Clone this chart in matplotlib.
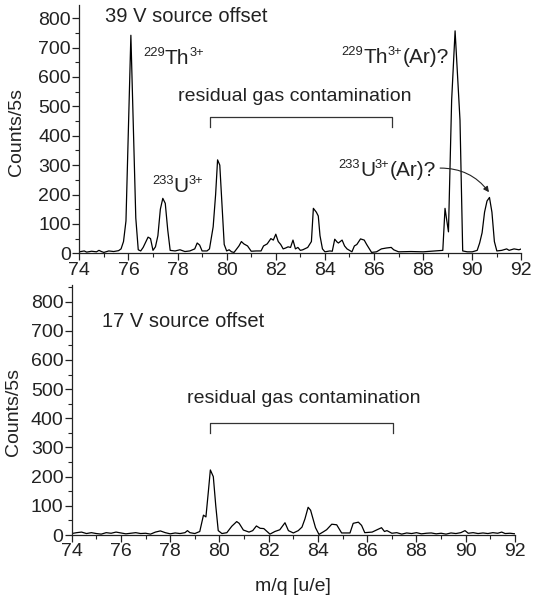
import matplotlib
matplotlib.use("Agg")
import matplotlib.pyplot as plt
from matplotlib.ticker import MultipleLocator
from matplotlib import font_manager

plt.rcParams['font.family'] = ['Liberation Sans', 'DejaVu Sans']

# ---- data: top panel (39 V source offset) ----
top_mq = [74.0, 74.2, 74.3, 74.5, 74.7, 74.8, 74.9, 75.0, 75.2, 75.4, 75.6, 75.7, 75.8, 75.9,
          76.0, 76.1, 76.2, 76.3, 76.4, 76.5, 76.6, 76.8, 76.9, 77.0, 77.1, 77.2, 77.3, 77.4,
          77.5, 77.6, 77.7, 77.9, 78.1, 78.3, 78.5, 78.7, 78.8, 78.9, 79.0, 79.2, 79.3, 79.45,
          79.55, 79.63, 79.72, 79.8, 79.9, 80.0, 80.1, 80.2, 80.3, 80.5, 80.6, 80.7, 80.85, 81.0,
          81.2, 81.4, 81.5, 81.65, 81.8, 81.9, 82.0, 82.1, 82.2, 82.3, 82.4, 82.5, 82.6, 82.7,
          82.8, 82.9, 83.0, 83.1, 83.3, 83.45, 83.53, 83.65, 83.73, 83.8, 83.9, 84.0, 84.2, 84.3,
          84.4, 84.5, 84.55, 84.7, 84.8, 84.9, 85.1, 85.2, 85.3, 85.45, 85.6, 85.7, 85.9, 86.1,
          86.3, 86.5, 86.7, 86.8, 87.0, 87.5, 88.0, 88.5, 88.8, 88.89, 89.03, 89.16, 89.3, 89.5,
          89.61, 89.8, 90.0, 90.2, 90.3, 90.4, 90.5, 90.6, 90.7, 90.8, 90.9, 91.0, 91.2, 91.4,
          91.5, 91.7, 91.9, 92.0]
top_counts = [5, 8, 4, 7, 5, 10, 6, 3, 8, 6, 9, 15, 40, 110,
              420, 742, 430, 120, 12, 8, 20, 55, 50, 10, 22, 60, 150, 187,
              170, 80, 10, 8, 12, 6, 8, 15, 35, 28, 8, 8, 15, 90,
              200, 318, 300, 180, 30, 8, 12, 5, 3, 25, 40, 32, 25, 7,
              8, 8, 25, 32, 50, 45, 65, 40, 30, 15, 18, 22, 20, 45,
              15, 20, 10, 12, 20, 40, 153, 140, 127, 60, 15, 5, 8, 7,
              48, 38, 35, 45, 25, 15, 5, 25, 30, 49, 45, 30, 3, 5,
              15, 18, 20, 12, 5, 6, 5, 8, 10, 153, 73, 521, 757, 453,
              8, 5, 5, 10, 35, 70, 140, 178, 190, 140, 40, 8, 10, 15,
              10, 15, 12, 15]

# ---- data: bottom panel (17 V source offset) ----
bot_mq = [74.0, 74.2, 74.4, 74.6, 74.8, 75.0, 75.2, 75.4, 75.6, 75.8, 76.0, 76.2, 76.4, 76.6,
          76.8, 77.0, 77.2, 77.4, 77.6, 77.8, 78.0, 78.2, 78.4, 78.6, 78.7, 78.8, 79.0, 79.2,
          79.35, 79.45, 79.55, 79.63, 79.75, 79.85, 79.95, 80.1, 80.3, 80.5, 80.7, 80.8, 80.97,
          81.2, 81.35, 81.5, 81.65, 81.8, 82.05, 82.25, 82.45, 82.66, 82.8, 83.0, 83.2, 83.35,
          83.47, 83.6, 83.7, 83.8, 83.9, 84.04, 84.2, 84.35, 84.56, 84.76, 84.96, 85.3, 85.43,
          85.64, 85.77, 85.9, 86.2, 86.45, 86.58, 86.7, 86.8, 87.0, 87.2, 87.4, 87.6, 87.8, 88.0,
          88.2, 88.4, 88.6, 88.8, 89.0, 89.2, 89.4, 89.6, 89.8, 89.97, 90.1, 90.3, 90.5, 90.7,
          90.9, 91.1, 91.3, 91.46, 91.6, 91.8, 92.0]
bot_counts = [5, 8, 10, 5, 8, 5, 3, 8, 6, 10, 7, 4, 6, 8,
              5, 6, 3, 10, 14, 8, 4, 7, 5, 8, 15, 8, 5, 12,
              68, 62, 150, 223, 200, 100, 15, 5, 8, 30, 46, 40, 17,
              10, 15, 31, 23, 22, 3, 12, 18, 42, 15, 7, 15, 27,
              55, 95, 85, 55, 25, 2, 10, 18, 37, 35, 7, 7, 40,
              44, 33, 8, 10, 20, 25, 12, 15, 6, 8, 3, 7, 5, 8,
              4, 6, 7, 4, 6, 3, 7, 5, 8, 15, 6, 8, 5, 7,
              5, 8, 6, 10, 5, 6, 4]

x_ticks = [74, 76, 78, 80, 82, 84, 86, 88, 90, 92]
y_ticks = [0, 100, 200, 300, 400, 500, 600, 700, 800]

# narrow font for the nuclide labels, if available
try:
    font_manager.findfont('Liberation Sans Narrow', fallback_to_default=False)
    NUC_FAMILY = ['Liberation Sans Narrow', 'Liberation Sans', 'DejaVu Sans']
    NUC_BASE, NUC_SUP = 18, 11
except Exception:
    NUC_FAMILY = ['Liberation Sans', 'DejaVu Sans']
    NUC_BASE, NUC_SUP = 15, 9.3

W, H = 534, 604
DPI = 100
fig = plt.figure(figsize=(W / DPI, H / DPI), dpi=DPI)
renderer = fig.canvas.get_renderer()

def px_axes(left, right, top, bottom):
    return fig.add_axes([left / W, 1 - bottom / H, (right - left) / W, (bottom - top) / H])

ax1 = px_axes(79.3, 521.4, 5, 253.3)
ax2 = px_axes(71.7, 515.0, 285, 535)

TC = '#222222'

def style(ax, ytop):
    ax.set_xlim(74, 92)
    ax.set_ylim(0, ytop)
    for s in ['top', 'right']:
        ax.spines[s].set_visible(False)
    for s in ['left', 'bottom']:
        ax.spines[s].set_linewidth(0.9)
        ax.spines[s].set_color(TC)
    ax.set_xticks(x_ticks)
    ax.set_yticks(y_ticks)
    ax.xaxis.set_minor_locator(MultipleLocator(1))
    ax.yaxis.set_minor_locator(MultipleLocator(50))
    ax.tick_params(which='major', direction='out', length=5, width=0.9, labelsize=14,
                   pad=1, colors=TC)
    ax.tick_params(which='minor', direction='out', length=3, width=0.8, colors=TC)
    ax.set_ylabel('Counts/5s', fontsize=14, color=TC)

style(ax1, 845)
style(ax2, 857)
ax1.yaxis.set_label_coords(-0.122, 0.49)
ax2.yaxis.set_label_coords(-0.111, 0.49)

ax1.plot(top_mq, top_counts, color='black', lw=0.9)
ax2.plot(bot_mq, bot_counts, color='black', lw=0.9)

ax2.set_xlabel('m/q [u/e]', fontsize=14, color=TC, labelpad=13)

def nuclide(ax, x, y, pieces, raise_pt=5.5):
    """pieces: list of (string, is_superscript)"""
    dx = 0.0
    for s, sup in pieces:
        size = NUC_SUP if sup else NUC_BASE
        t = ax.annotate(s, xy=(x, y), xycoords='data',
                        xytext=(dx, raise_pt if sup else 0), textcoords='offset points',
                        fontsize=size, family=NUC_FAMILY, color=TC,
                        ha='left', va='baseline')
        w = t.get_window_extent(renderer).width
        dx += w * 72.0 / DPI

fs = 14.5
# top annotations
ax1.text(75.05, 787, '39 V source offset', fontsize=fs, color=TC, va='baseline')
nuclide(ax1, 76.6, 645, [('229', True), ('Th', False), ('3+', True)])
ax1.text(78.03, 518, 'residual gas contamination', fontsize=14, color=TC, va='baseline')
nuclide(ax1, 76.96, 209, [('233', True), ('U', False), ('3+', True)])
nuclide(ax1, 84.68, 648, [('229', True), ('Th', False), ('3+', True), ('(Ar)?', False)])
nuclide(ax1, 84.55, 263, [('233', True), ('U', False), ('3+', True), ('(Ar)?', False)])
ax1.plot([79.32, 79.32, 86.72, 86.72], [430, 464, 464, 430], color='#333333', lw=0.9)
ax1.annotate('', xy=(90.68, 208), xytext=(88.69, 290),
             arrowprops=dict(arrowstyle='-|>', color=TC, lw=0.8, mutation_scale=8,
                             shrinkA=0, shrinkB=0, connectionstyle='arc3,rad=-0.25'))

# bottom annotations
ax2.text(75.22, 712, '17 V source offset', fontsize=fs, color=TC, va='baseline')
ax2.text(78.67, 452, 'residual gas contamination', fontsize=14, color=TC, va='baseline')
ax2.plot([79.62, 79.62, 87.03, 87.03], [351, 383, 383, 351], color='#333333', lw=0.9)

fig.savefig('out.png', dpi=DPI)
